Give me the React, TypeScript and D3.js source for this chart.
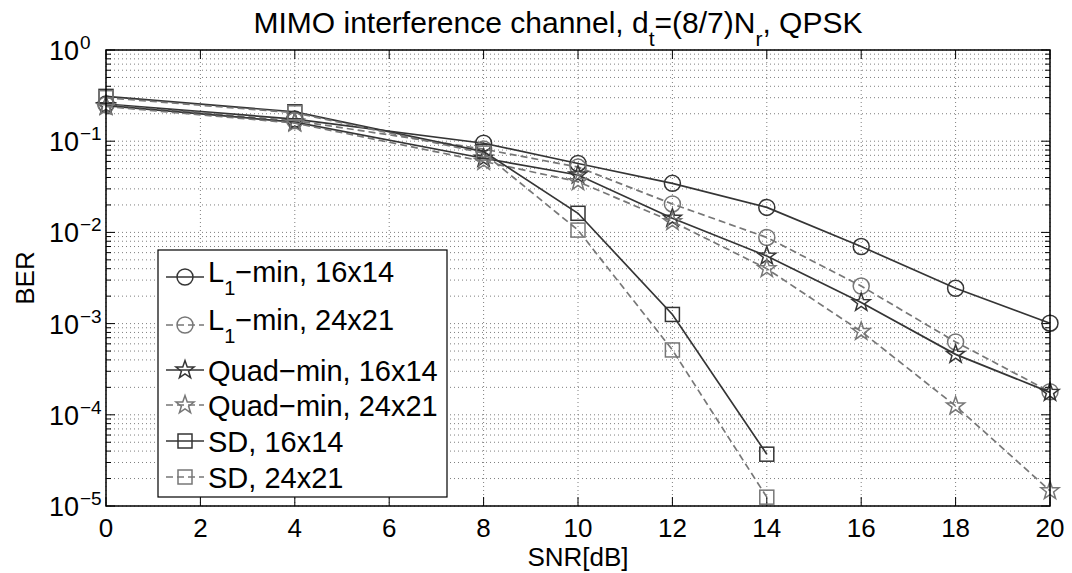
import React, { useRef, useEffect } from 'react';
import * as d3 from 'd3';

// SNR points
const snrFull = [0, 4, 8, 10, 12, 14, 16, 18, 20];
const snrSD = [0, 4, 8, 10, 12, 14];

// BER values
const l1_16x14 = [0.255, 0.175, 0.095, 0.057, 0.0345, 0.0188, 0.0070, 0.00244, 0.00101];
const l1_24x21 = [0.25, 0.168, 0.082, 0.052, 0.0205, 0.0088, 0.00258, 0.00063, 0.000179];
const quad_16x14 = [0.245, 0.162, 0.065, 0.0426, 0.0143, 0.0055, 0.0017, 0.00046, 0.000176];
const quad_24x21 = [0.24, 0.158, 0.06, 0.036, 0.0131, 0.0040, 0.00082, 0.000125, 1.47e-5];
const sd_16x14 = [0.31, 0.21, 0.077, 0.0162, 0.00126, 3.7e-5];
const sd_24x21 = [0.30, 0.205, 0.074, 0.0106, 0.000514, 1.25e-5];

const xTicks = [0, 2, 4, 6, 8, 10, 12, 14, 16, 18, 20];
const yExponents = [0, -1, -2, -3, -4, -5];

const DARK = '#353535';
const GREY = '#777777';
const FONT = '"Liberation Sans", Arial, Helvetica, sans-serif';

interface Series {
  name: string;
  sub?: string;
  rest: string;
  x: number[];
  y: number[];
  color: string;
  dashed: boolean;
  marker: 'circle' | 'star' | 'square';
}

const series: Series[] = [
  { name: 'L', sub: '1', rest: '\u2212min, 16x14', x: snrFull, y: l1_16x14, color: DARK, dashed: false, marker: 'circle' },
  { name: 'L', sub: '1', rest: '\u2212min, 24x21', x: snrFull, y: l1_24x21, color: GREY, dashed: true, marker: 'circle' },
  { name: 'Quad\u2212min, 16x14', rest: '', x: snrFull, y: quad_16x14, color: DARK, dashed: false, marker: 'star' },
  { name: 'Quad\u2212min, 24x21', rest: '', x: snrFull, y: quad_24x21, color: GREY, dashed: true, marker: 'star' },
  { name: 'SD, 16x14', rest: '', x: snrSD, y: sd_16x14, color: DARK, dashed: false, marker: 'square' },
  { name: 'SD, 24x21', rest: '', x: snrSD, y: sd_24x21, color: GREY, dashed: true, marker: 'square' },
];

function starPath(r: number): string {
  const pts: [number, number][] = [];
  const inner = r * 0.4;
  for (let i = 0; i < 10; i++) {
    const a = -Math.PI / 2 + (i * Math.PI) / 5;
    const rr = i % 2 === 0 ? r : inner;
    pts.push([rr * Math.cos(a), rr * Math.sin(a)]);
  }
  return 'M' + pts.map(p => p.join(',')).join('L') + 'Z';
}

function drawMarker(g: any, kind: string, cx: number, cy: number, color: string) {
  if (kind === 'circle') {
    g.append('circle').attr('cx', cx).attr('cy', cy).attr('r', 8)
      .attr('fill', 'none').attr('stroke', color).attr('stroke-width', 1.5);
  } else if (kind === 'star') {
    g.append('path').attr('d', starPath(9.5)).attr('transform', `translate(${cx},${cy})`)
      .attr('fill', 'none').attr('stroke', color).attr('stroke-width', 1.5);
  } else {
    g.append('rect').attr('x', cx - 7).attr('y', cy - 7).attr('width', 14).attr('height', 14)
      .attr('fill', 'none').attr('stroke', color).attr('stroke-width', 1.5);
  }
}

export default function App() {
  const svgRef = useRef<SVGSVGElement>(null);

  useEffect(() => {
    document.body.style.margin = '0';
    const width = 1072;
    const height = 573;
    const margin = { top: 50, right: 22, bottom: 67, left: 106 };
    const svg = d3.select(svgRef.current);
    svg.selectAll('*').remove();
    svg.attr('width', width).attr('height', height);

    const x = d3.scaleLinear().domain([0, 20]).range([margin.left, width - margin.right]);
    const y = d3.scaleLog().domain([1e-5, 1]).range([height - margin.bottom, margin.top]);
    const [x0, x1] = x.range();
    const [yb, yt] = y.range();

    svg.append('rect').attr('width', width).attr('height', height).attr('fill', '#fff');

    // minor + major y values
    const yMinor: number[] = [];
    yExponents.slice(1).forEach(e => {
      for (let k = 2; k <= 9; k++) yMinor.push(k * Math.pow(10, e));
    });
    const yMajor = yExponents.map(e => Math.pow(10, e));

    // grid (dotted)
    const grid = svg.append('g').attr('stroke', '#000').attr('stroke-width', 1)
      .attr('stroke-dasharray', '1,3').attr('opacity', 0.5);
    [...yMajor, ...yMinor].forEach(v => {
      grid.append('line').attr('x1', x0).attr('x2', x1).attr('y1', y(v)).attr('y2', y(v));
    });
    xTicks.forEach(v => {
      grid.append('line').attr('x1', x(v)).attr('x2', x(v)).attr('y1', yt).attr('y2', yb);
    });

    // ticks (inside)
    const ticks = svg.append('g').attr('stroke', '#000').attr('stroke-width', 1);
    xTicks.forEach(v => {
      ticks.append('line').attr('x1', x(v)).attr('x2', x(v)).attr('y1', yb).attr('y2', yb - 9);
      ticks.append('line').attr('x1', x(v)).attr('x2', x(v)).attr('y1', yt).attr('y2', yt + 9);
    });
    yMajor.forEach(v => {
      ticks.append('line').attr('x1', x0).attr('x2', x0 + 9).attr('y1', y(v)).attr('y2', y(v));
      ticks.append('line').attr('x1', x1).attr('x2', x1 - 9).attr('y1', y(v)).attr('y2', y(v));
    });
    yMinor.forEach(v => {
      ticks.append('line').attr('x1', x0).attr('x2', x0 + 5).attr('y1', y(v)).attr('y2', y(v));
      ticks.append('line').attr('x1', x1).attr('x2', x1 - 5).attr('y1', y(v)).attr('y2', y(v));
    });

    // series
    const line = d3.line<[number, number]>().x(d => x(d[0])).y(d => y(d[1]));
    series.forEach(s => {
      const pts = s.x.map((xv, i) => [xv, s.y[i]] as [number, number]);
      svg.append('path').attr('d', line(pts) as string).attr('fill', 'none')
        .attr('stroke', s.color).attr('stroke-width', 1.7)
        .attr('stroke-dasharray', s.dashed ? '7,4' : null);
      const mg = svg.append('g');
      pts.forEach(p => drawMarker(mg, s.marker, x(p[0]), y(p[1]), s.color));
    });

    // axes box
    svg.append('rect').attr('x', x0).attr('y', yt).attr('width', x1 - x0).attr('height', yb - yt)
      .attr('fill', 'none').attr('stroke', '#000').attr('stroke-width', 1.5);

    // tick labels
    xTicks.forEach(v => {
      svg.append('text').attr('x', x(v)).attr('y', 537).attr('text-anchor', 'middle')
        .attr('font-family', FONT).attr('font-size', 26).text(String(v));
    });
    yExponents.forEach(e => {
      const yy = y(Math.pow(10, e));
      svg.append('text').attr('x', 79).attr('y', yy + 10).attr('text-anchor', 'end')
        .attr('font-family', FONT).attr('font-size', 27).text('10');
      svg.append('text').attr('x', 80).attr('y', yy - 1).attr('text-anchor', 'start')
        .attr('font-family', FONT).attr('font-size', 19).text(e === 0 ? '0' : '\u2212' + Math.abs(e));
    });

    // axis labels
    svg.append('text').attr('x', (x0 + x1) / 2).attr('y', 566).attr('text-anchor', 'middle')
      .attr('font-family', FONT).attr('font-size', 26).text('SNR[dB]');
    svg.append('text').attr('transform', `translate(34,${(yt + yb) / 2}) rotate(-90)`)
      .attr('text-anchor', 'middle').attr('font-family', FONT).attr('font-size', 26).text('BER');

    // title
    const title = svg.append('text').attr('x', 558).attr('y', 33).attr('text-anchor', 'middle')
      .attr('font-family', FONT).attr('font-size', 30);
    title.append('tspan').text('MIMO interference channel, d');
    title.append('tspan').attr('font-size', 21).attr('dy', 13).text('t');
    title.append('tspan').attr('dy', -13).text('=(8/7)N');
    title.append('tspan').attr('font-size', 21).attr('dy', 13).text('r');
    title.append('tspan').attr('dy', -13).text(', QPSK');

    // legend
    const lg = svg.append('g');
    lg.append('rect').attr('x', 158).attr('y', 250).attr('width', 289).attr('height', 247)
      .attr('fill', '#fff').attr('stroke', '#000').attr('stroke-width', 1.2);
    const rowY = [277, 325, 370, 405, 441, 477];
    series.forEach((s, i) => {
      const ry = rowY[i];
      lg.append('line').attr('x1', 166).attr('x2', 204).attr('y1', ry).attr('y2', ry)
        .attr('stroke', s.color).attr('stroke-width', 1.7)
        .attr('stroke-dasharray', s.dashed ? '7,4' : null);
      drawMarker(lg, s.marker, 185, ry, s.color);
      const t = lg.append('text').attr('x', 208).attr('y', s.sub ? ry + 5 : ry + 11)
        .attr('font-family', FONT).attr('font-size', 29).attr('fill', '#000');
      t.append('tspan').text(s.name);
      if (s.sub) {
        t.append('tspan').attr('font-size', 20).attr('dy', 13).text(s.sub);
        t.append('tspan').attr('dy', -13).text(s.rest);
      }
    });
  }, []);

  return <svg ref={svgRef} style={{ display: 'block' }}></svg>;
}
